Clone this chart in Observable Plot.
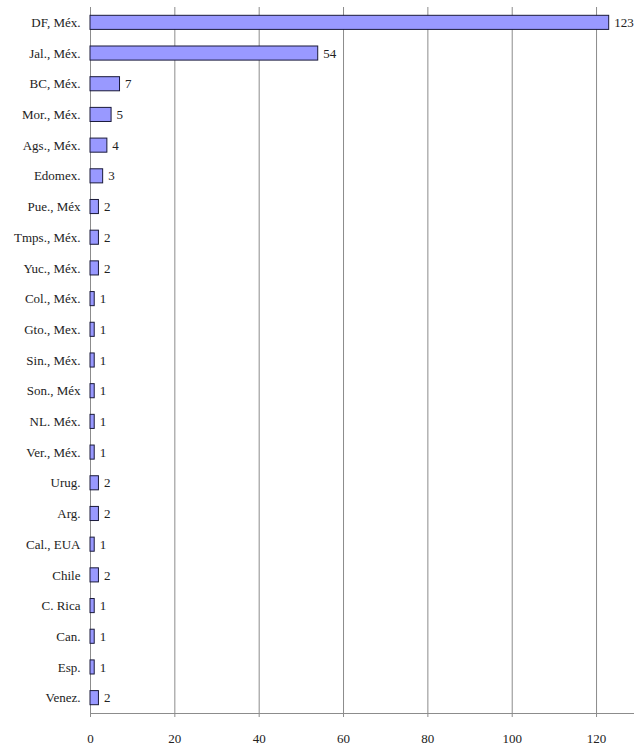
<!DOCTYPE html>
<html>
<head>
<meta charset="utf-8">
<script src="https://cdn.jsdelivr.net/npm/d3@7"></script>
<script src="https://cdn.jsdelivr.net/npm/@observablehq/plot@0.6"></script>
<style>
  html, body { margin: 0; padding: 0; background: #fff; }
  #chart svg { display: block; }
  #chart svg, #chart svg text { font-family: "Liberation Serif", serif !important; }
</style>
</head>
<body>
<div id="chart"></div>
<script>
const places = ["DF, Méx.", "Jal., Méx.", "BC, Méx.", "Mor., Méx.", "Ags., Méx.", "Edomex.", "Pue., Méx", "Tmps., Méx.", "Yuc., Méx.", "Col., Méx.", "Gto., Mex.", "Sin., Méx.", "Son., Méx", "NL. Méx.", "Ver., Méx.", "Urug.", "Arg.", "Cal., EUA", "Chile", "C. Rica", "Can.", "Esp.", "Venez."];
const counts = [123, 54, 7, 5, 4, 3, 2, 2, 2, 1, 1, 1, 1, 1, 1, 2, 2, 1, 2, 1, 1, 1, 2];
const xTicks = [0, 20, 40, 60, 80, 100, 120];

const data = places.map((p, i) => ({place: p, value: counts[i]}));

const chart = Plot.plot({
  width: 634,
  height: 748,
  marginLeft: 90,
  marginRight: 0,
  marginTop: 7,
  marginBottom: 35,
  style: {fontSize: "13px", color: "#222"},
  x: {domain: [0, 129], label: null},
  y: {domain: places, padding: 0, round: false, label: null},
  marks: [
    Plot.ruleX(xTicks, {stroke: "#8c8c8c", strokeWidth: 1, strokeOpacity: 1}),
    Plot.frame({anchor: "bottom", stroke: "#8c8c8c"}),
    Plot.axisX({ticks: xTicks, tickSize: 4, tickPadding: 16, stroke: "#8c8c8c", tickFormat: d => d, fontSize: 13, fill: "#222", label: null}),
    Plot.axisY({tickSize: 0, tickPadding: 10, fontSize: 13, fill: "#222", label: null}),
    Plot.barX(data, {x: "value", y: "place", fill: "#9999ff", stroke: "#1a1a3a", strokeWidth: 1, insetTop: 8.3, insetBottom: 8.3}),
    Plot.text(data, {x: "value", y: "place", text: d => String(d.value), dx: 5, textAnchor: "start", fontSize: 13, fill: "#222"})
  ]
});
document.getElementById("chart").appendChild(chart);
</script>
</body>
</html>
